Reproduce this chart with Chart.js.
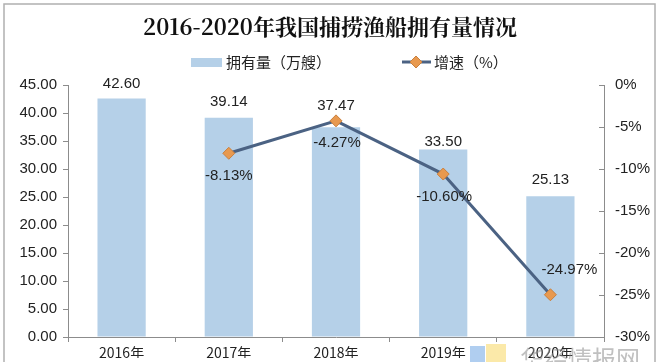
<!DOCTYPE html>
<html><head><meta charset="utf-8">
<script src="https://cdn.jsdelivr.net/npm/chart.js@4"></script>
<style>html,body{margin:0;padding:0;background:#fff;}#wrap{width:660px;height:362px;position:relative;}</style>
</head><body><div id="wrap"><canvas id="c" width="660" height="362"></canvas></div>
<script>
const categories = ['2016年','2017年','2018年','2019年','2020年'];
const fleetCount = [42.60, 39.14, 37.47, 33.50, 25.13];
const growthRate = [null, -8.13, -4.27, -10.60, -24.97];
const leftTicks = [0,5,10,15,20,25,30,35,40,45];
const rightTicks = [0,-5,-10,-15,-20,-25,-30];
const titleText = '2016-2020年我国捕捞渔船拥有量情况';
const legendBar = '拥有量（万艘）';
const legendLine = '增速（%）';
const watermark = '华经情报网';

const BAR = '#B5D0E8', LINE = '#4B6283', MARK = '#E8994F', AX = '#8c8c8c';
const FONT = 'Liberation Sans, Arial, sans-serif';
const CJK = '"Noto Sans CJK SC", sans-serif';

const deco = {
  id: 'deco',
  beforeDraw(chart) {
    const ctx = chart.ctx;
    ctx.save();
    ctx.fillStyle = '#fff'; ctx.fillRect(0,0,660,362);
    ctx.strokeStyle = '#b0b0b0'; ctx.lineWidth = 1.5;
    ctx.strokeRect(4, 4, 651, 370);
    ctx.fillStyle = '#111';
    ctx.font = 'bold 22px "Noto Serif CJK SC", "Noto Sans CJK SC", serif';
    ctx.textAlign = 'center'; ctx.textBaseline = 'middle';
    ctx.fillText(titleText, 330, 27);
    ctx.font = '15px ' + CJK;
    ctx.textAlign = 'left';
    ctx.fillStyle = BAR; ctx.fillRect(191, 58, 31, 9);
    ctx.fillStyle = '#222'; ctx.fillText(legendBar, 226, 62);
    ctx.strokeStyle = LINE; ctx.lineWidth = 3;
    ctx.beginPath(); ctx.moveTo(402, 62); ctx.lineTo(431, 62); ctx.stroke();
    ctx.fillStyle = MARK; ctx.strokeStyle = '#c9803e'; ctx.lineWidth = 1;
    ctx.beginPath(); ctx.moveTo(416,56); ctx.lineTo(422,62); ctx.lineTo(416,68); ctx.lineTo(410,62); ctx.closePath(); ctx.fill(); ctx.stroke();
    ctx.fillStyle = '#222'; ctx.fillText(legendLine, 434, 62);
    ctx.restore();
  },
  afterDatasetsDraw(chart) {
    const ctx = chart.ctx;
    ctx.save();
    ctx.font = '15px ' + FONT; ctx.fillStyle = '#222';
    ctx.textAlign = 'center'; ctx.textBaseline = 'middle';
    const bm = chart.getDatasetMeta(0);
    const boffs = [-15, -16, -21, -8, -16];
    bm.data.forEach((el, i) => {
      ctx.fillText(fleetCount[i].toFixed(2), el.x, el.y + boffs[i]);
    });
    const lm = chart.getDatasetMeta(1);
    const offs = [null, [0, 23], [1, 22], [1, 23], [19, -25]];
    lm.data.forEach((el, i) => {
      if (growthRate[i] == null) return;
      ctx.fillText(growthRate[i].toFixed(2) + '%', el.x + offs[i][0], el.y + offs[i][1]);
    });
    ctx.restore();
  },
  afterDraw(chart) {
    const ctx = chart.ctx;
    ctx.save();
    ctx.fillStyle = 'rgba(150,190,235,0.75)'; ctx.fillRect(470, 346, 15, 16);
    ctx.fillStyle = 'rgba(250,225,140,0.75)'; ctx.fillRect(486, 344, 20, 18);
    ctx.fillStyle = 'rgba(140,140,140,0.55)';
    ctx.font = '24px ' + CJK; ctx.textAlign = 'left'; ctx.textBaseline = 'middle';
    ctx.fillText(watermark, 520, 359);
    ctx.restore();
  }
};

new Chart(document.getElementById('c'), {
  type: 'bar',
  data: {
    labels: categories,
    datasets: [
      { type: 'bar', data: fleetCount, backgroundColor: BAR, yAxisID: 'y', barPercentage: 0.9, categoryPercentage: 0.5, order: 2 },
      { type: 'line', data: growthRate, yAxisID: 'y1', borderColor: LINE, borderWidth: 3,
        pointStyle: 'rectRot', pointRadius: 6, pointBackgroundColor: MARK, pointBorderColor: '#c9803e', pointBorderWidth: 1,
        tension: 0, order: 1, spanGaps: false }
    ]
  },
  options: {
    responsive: false, animation: false, devicePixelRatio: 1,
    layout: { padding: { top: 85, left: 0, right: 0, bottom: 0 } },
    plugins: { legend: { display: false }, title: { display: false }, tooltip: { enabled: false } },
    scales: {
      x: {
        offset: true,
        grid: { offset: true, drawOnChartArea: false, drawTicks: true, tickLength: 5, color: AX },
        border: { color: AX, width: 1 },
        ticks: { color: '#222', font: { family: CJK, size: 14 }, padding: 2, maxRotation: 0 },
        afterFit(s) { s.height = 21; }
      },
      y: {
        position: 'left', min: 0, max: 45,
        afterBuildTicks(s) { s.ticks = leftTicks.map(v => ({ value: v })); },
        grid: { drawOnChartArea: false, tickLength: 5, color: AX },
        border: { color: AX, width: 1 },
        ticks: { color: '#222', font: { family: FONT, size: 15 }, padding: 6, callback: v => v.toFixed(2) },
        afterFit(s) { s.width = 68; }
      },
      y1: {
        position: 'right', min: -30, max: 0,
        afterBuildTicks(s) { s.ticks = rightTicks.map(v => ({ value: v })); },
        grid: { drawOnChartArea: false, tickLength: -5, color: AX },
        border: { color: AX, width: 1 },
        ticks: { color: '#222', font: { family: FONT, size: 15 }, padding: 16, callback: v => v + '%' },
        afterFit(s) { s.width = 56; }
      }
    }
  },
  plugins: [deco]
});
</script>
</body></html>
